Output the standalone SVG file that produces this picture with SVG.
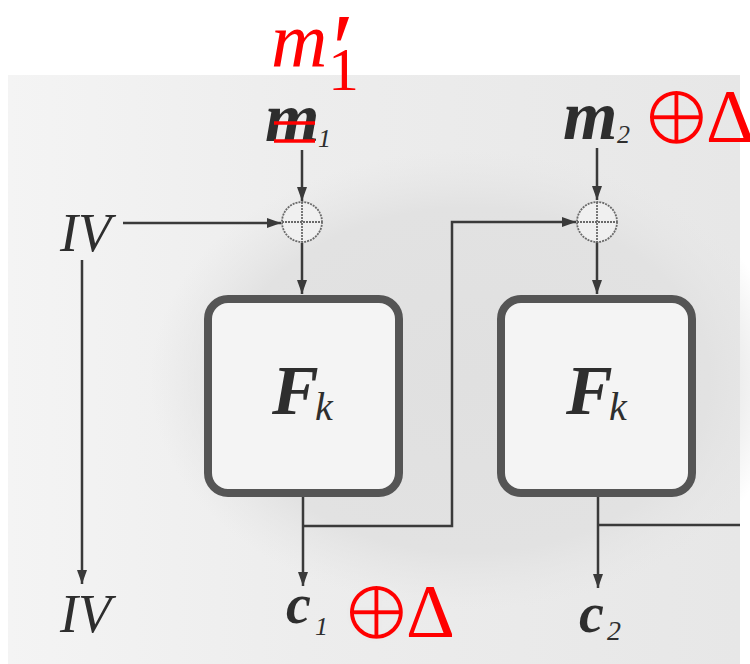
<svg xmlns="http://www.w3.org/2000/svg" width="750" height="664" viewBox="0 0 750 664">
<defs>
<radialGradient id="blob" cx="0.5" cy="0.5" r="0.5">
<stop offset="0" stop-color="#e0e0e0"/>
<stop offset="0.75" stop-color="#e2e2e2"/>
<stop offset="1" stop-color="#e6e6e6" stop-opacity="0"/>
</radialGradient>
<linearGradient id="bg" x1="0" y1="0" x2="1" y2="0">
<stop offset="0" stop-color="#f4f4f4"/>
<stop offset="0.4" stop-color="#ededed"/>
<stop offset="1" stop-color="#e7e7e7"/>
</linearGradient>
<marker id="ah" markerUnits="userSpaceOnUse" markerWidth="14" markerHeight="10" refX="14" refY="5" orient="auto">
<path d="M0,0 L14,5 L0,10 z" fill="#3a3a3a"/>
</marker>
</defs>
<style>
.ln{fill:none;stroke:#3a3a3a;stroke-width:2.5}
.xor{fill:#f0f0f0;stroke:#6a6a6a;stroke-width:1.8;stroke-dasharray:2 1}
.box{fill:#f4f4f4;stroke:#555;stroke-width:8}
.sc{font-family:"Liberation Serif",serif;fill:#2e2e2e;font-style:italic}
.red{font-family:"Liberation Serif",serif;fill:#ff0000}
.sym{font-family:"DejaVu Serif","DejaVu Sans",serif;fill:#ff0000;stroke-width:3}
.strike{stroke:#ff0000;stroke-width:3.5}
</style>
<rect x="0" y="0" width="750" height="664" fill="#ffffff"/>
<rect x="8" y="75" width="732" height="589" fill="url(#bg)"/>
<ellipse cx="470" cy="380" rx="320" ry="230" fill="url(#blob)"/>

<g id="connectors">
<line class="ln" x1="302" y1="150" x2="302" y2="201" marker-end="url(#ah)"/>
<line class="ln" x1="123" y1="223" x2="281" y2="223" marker-end="url(#ah)"/>
<line class="ln" x1="302" y1="243" x2="302" y2="294" marker-end="url(#ah)"/>
<line class="ln" x1="303" y1="497" x2="303" y2="586" marker-end="url(#ah)"/>
<polyline class="ln" points="303,526 452,526 452,222 576,222" marker-end="url(#ah)"/>
<line class="ln" x1="597" y1="148" x2="597" y2="200" marker-end="url(#ah)"/>
<line class="ln" x1="597" y1="242" x2="597" y2="294" marker-end="url(#ah)"/>
<line class="ln" x1="598" y1="497" x2="598" y2="588" marker-end="url(#ah)"/>
<line class="ln" x1="598" y1="525" x2="740" y2="525"/>
<line class="ln" x1="82" y1="260" x2="82" y2="584" marker-end="url(#ah)"/>
</g>

<g id="xor1">
<circle class="xor" cx="302" cy="222" r="20"/>
<line class="xor" x1="282" y1="222" x2="322" y2="222"/>
<line class="xor" x1="302" y1="202" x2="302" y2="242"/>
</g>
<g id="xor2">
<circle class="xor" cx="597" cy="222" r="20"/>
<line class="xor" x1="577" y1="222" x2="617" y2="222"/>
<line class="xor" x1="597" y1="202" x2="597" y2="242"/>
</g>

<g id="box1">
<rect class="box" x="208" y="299" width="191" height="194" rx="20"/>
<text class="sc" x="272" y="414" font-size="70" font-weight="bold">F</text>
<text class="sc" x="315" y="420" font-size="40">k</text>
</g>
<g id="box2">
<rect class="box" x="501" y="299" width="191" height="194" rx="20"/>
<text class="sc" x="566" y="414" font-size="70" font-weight="bold">F</text>
<text class="sc" x="609" y="420" font-size="40">k</text>
</g>

<g id="m1">
<text class="sc" x="265" y="141" font-size="70" font-weight="bold">m</text>
<text class="sc" x="318" y="147" font-size="26">1</text>
<line class="strike" x1="274" y1="123" x2="315" y2="123"/>
<line class="strike" x1="274" y1="141" x2="315" y2="141"/>
</g>
<g id="m1prime">
<text class="red" x="271" y="67" font-size="78" font-style="italic">m</text>
<text class="red" x="326" y="82" font-size="100" font-style="italic">′</text>
<text class="red" x="328" y="90" font-size="62">1</text>
</g>
<g id="m2">
<text class="sc" x="563" y="139" font-size="70" font-weight="bold">m</text>
<text class="sc" x="617" y="143" font-size="26">2</text>
<text class="sym" x="639" y="145" font-size="89" stroke="#e8e8e8">⊕</text>
<text class="red" x="706" y="142" font-size="76">Δ</text>
</g>
<g id="iv1">
<text class="sc" x="60" y="251" font-size="54">IV</text>
</g>
<g id="iv2">
<text class="sc" x="60" y="632" font-size="54">IV</text>
</g>
<g id="c1">
<text class="sc" x="286" y="623" font-size="56" font-weight="bold">c</text>
<text class="sc" x="315" y="635" font-size="26">1</text>
<text class="sym" x="339" y="640" font-size="89" stroke="#ebebeb">⊕</text>
<text class="red" x="406" y="637" font-size="76">Δ</text>
</g>
<g id="c2">
<text class="sc" x="579" y="632" font-size="56" font-weight="bold">c</text>
<text class="sc" x="607" y="640" font-size="28" font-style="normal">2</text>
</g>
</svg>
